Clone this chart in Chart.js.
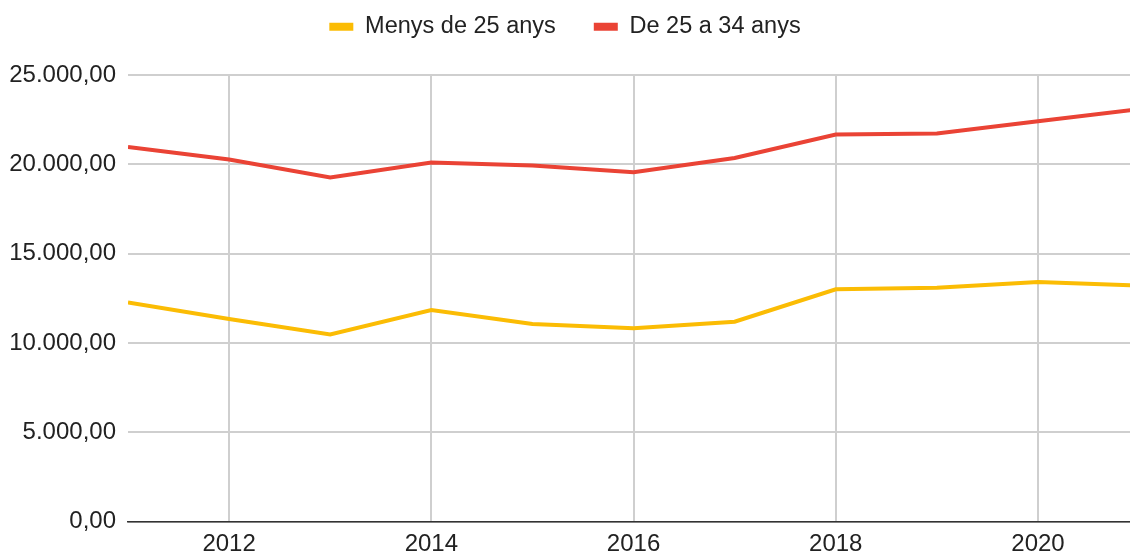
<!DOCTYPE html>
<html>
<head>
<meta charset="utf-8">
<script src="https://cdn.jsdelivr.net/npm/chart.js@4/dist/chart.umd.min.js"></script>
<style>
  html, body { margin: 0; padding: 0; background: #fff; }
  #wrap { width: 1130px; height: 555px; }
</style>
</head>
<body>
<div id="wrap"><canvas id="chart" width="1130" height="555"></canvas></div>
<script>
// Data
const years = [2011, 2012, 2013, 2014, 2015, 2016, 2017, 2018, 2019, 2020, 2021];
const menys25 = [12270, 11340, 10480, 11840, 11060, 10820, 11190, 13010, 13090, 13420, 13220];
const de25a34 = [20970, 20270, 19260, 20100, 19930, 19560, 20360, 21670, 21720, 22410, 23090];
const tickYears = [2012, 2014, 2016, 2018, 2020];
const seriesNames = ['Menys de 25 anys', 'De 25 a 34 anys'];
const seriesColors = ['#fbbc04', '#ea4335'];

// 25000 -> "25.000,00"
const formatNumber = (v) => {
    const [intPart, decPart] = v.toFixed(2).split('.');
    return intPart.replace(/\B(?=(\d{3})+(?!\d))/g, '.') + ',' + decPart;
};

const toPoints = (values) => values.map((v, i) => ({ x: years[i], y: v }));

const tickFont = { family: '"Liberation Sans", Arial, sans-serif', size: 24 };
const legendFont = { family: '"Liberation Sans", Arial, sans-serif', size: 23.5 };

// Legend sits higher than Chart.js would put it, chart area starts lower
const legendTweak = {
    id: 'legendTweak',
    beforeInit(chart) {
        const origFit = chart.legend.fit;
        chart.legend.fit = function () {
            origFit.call(this);
            this.height = 75;
        };
    },
    afterLayout(chart) {
        chart.legend.top -= 23;
    }
};

new Chart(document.getElementById('chart').getContext('2d'), {
    type: 'line',
    data: {
        datasets: [menys25, de25a34].map((values, i) => ({
            label: seriesNames[i],
            data: toPoints(values),
            borderColor: seriesColors[i],
            backgroundColor: seriesColors[i],
            borderWidth: 4,
            pointRadius: 0,
            fill: false,
            tension: 0
        }))
    },
    options: {
        responsive: false,
        animation: false,
        layout: { padding: 0 },
        plugins: {
            legend: {
                position: 'top',
                labels: {
                    font: legendFont,
                    color: '#222',
                    boxWidth: 24,
                    boxHeight: 8,
                    padding: 38,
                    generateLabels: (chart) => Chart.defaults.plugins.legend.labels.generateLabels(chart)
                        .map(item => ({ ...item, lineWidth: 0 }))
                }
            },
            tooltip: { enabled: false }
        },
        scales: {
            x: {
                type: 'linear',
                min: 2011,
                max: 2020.91,
                afterBuildTicks: (scale) => {
                    scale.ticks = tickYears.map(v => ({ value: v }));
                },
                afterFit: (scale) => { scale.height = 33.3; },
                ticks: {
                    font: tickFont,
                    color: '#222',
                    padding: 8,
                    maxRotation: 0,
                    callback: (v) => String(v)
                },
                grid: { color: '#cfcfcf', lineWidth: 2, drawTicks: false },
                border: { display: true, color: '#333333', width: 1.5 }
            },
            y: {
                min: 0,
                max: 25000,
                afterFit: (scale) => { scale.width = 128; },
                ticks: {
                    stepSize: 5000,
                    font: tickFont,
                    color: '#222',
                    padding: 12,
                    callback: (v) => formatNumber(v)
                },
                grid: { color: '#cfcfcf', lineWidth: 2, drawTicks: false },
                border: { display: false }
            }
        }
    },
    plugins: [legendTweak]
});
</script>
</body>
</html>
